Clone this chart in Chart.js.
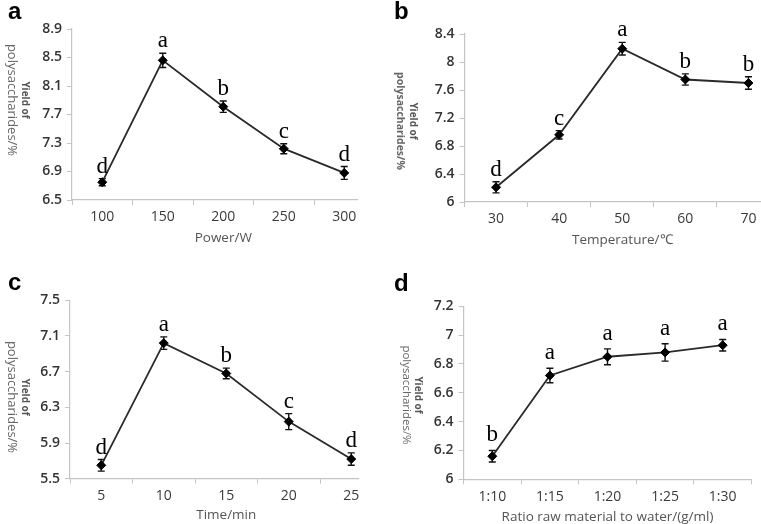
<!DOCTYPE html>
<html>
<head>
<meta charset="utf-8">
<script src="https://cdn.jsdelivr.net/npm/chart.js@4"></script>
<style>
  html, body { margin: 0; padding: 0; background: #fff; }
  body { width: 761px; height: 524px; overflow: hidden; position: relative; }
  .panel { position: absolute; overflow: hidden; }
  canvas { display: block; }
</style>
</head>
<body>
<div class="panel" style="left:0;top:0;width:358px;height:262px"><canvas id="chartA" width="380" height="262"></canvas></div>
<div class="panel" style="left:380px;top:0;width:381px;height:262px"><canvas id="chartB" width="420" height="262"></canvas></div>
<div class="panel" style="left:0;top:262px;width:359px;height:262px"><canvas id="chartC" width="390" height="262"></canvas></div>
<div class="panel" style="left:380px;top:262px;width:381px;height:262px"><canvas id="chartD" width="381" height="262"></canvas></div>
<script>
// a: power
const powerLabels = ['100', '150', '200', '250', '300'];
const powerYield = [6.75, 8.46, 7.81, 7.22, 6.88];
const powerErr = [0.05, 0.1, 0.08, 0.07, 0.09];
const powerGroups = ['d', 'a', 'b', 'c', 'd'];

// b: temperature
const tempLabels = ['30', '40', '50', '60', '70'];
const tempYield = [6.21, 6.96, 8.19, 7.75, 7.70];
const tempErr = [0.08, 0.06, 0.09, 0.08, 0.09];
const tempGroups = ['d', 'c', 'a', 'b', 'b'];

// c: time
const timeLabels = ['5', '10', '15', '20', '25'];
const timeYield = [5.65, 7.02, 6.68, 6.14, 5.72];
const timeErr = [0.065, 0.07, 0.06, 0.09, 0.07];
const timeGroups = ['d', 'a', 'b', 'c', 'd'];

// d: ratio
const ratioLabels = ['1:10', '1:15', '1:20', '1:25', '1:30'];
const ratioYield = [6.16, 6.72, 6.85, 6.88, 6.93];
const ratioErr = [0.04, 0.05, 0.055, 0.06, 0.04];
const ratioGroups = ['b', 'a', 'a', 'a', 'a'];

const yTitle = ['Yield of', 'polysaccharides/%'];

// error bars + letters + panel label + rotated y title
const decor = {
  id: 'decor',
  beforeDatasetsDraw(chart, args, o) {
    const ctx = chart.ctx, y = chart.scales.y;
    const meta = chart.getDatasetMeta(0), vals = chart.data.datasets[0].data;
    ctx.save();
    ctx.strokeStyle = '#111';
    ctx.lineWidth = 1.4;
    meta.data.forEach((pt, i) => {
      const yt = y.getPixelForValue(vals[i] + o.errors[i]);
      const yb = y.getPixelForValue(vals[i] - o.errors[i]);
      ctx.beginPath();
      ctx.moveTo(pt.x, yt); ctx.lineTo(pt.x, yb);
      ctx.moveTo(pt.x - 3.5, yt); ctx.lineTo(pt.x + 3.5, yt);
      ctx.moveTo(pt.x - 3.5, yb); ctx.lineTo(pt.x + 3.5, yb);
      ctx.stroke();
    });
    ctx.restore();
  },
  afterDraw(chart, args, o) {
    const ctx = chart.ctx, y = chart.scales.y;
    const meta = chart.getDatasetMeta(0), vals = chart.data.datasets[0].data;
    ctx.save();
    ctx.fillStyle = '#000';
    ctx.font = '23px "Liberation Serif", serif';
    ctx.textAlign = 'center';
    ctx.textBaseline = 'alphabetic';
    meta.data.forEach((pt, i) => {
      const yt = y.getPixelForValue(vals[i] + o.errors[i]);
      ctx.fillText(o.groups[i], pt.x, yt - o.gap);
    });
    // panel letter
    ctx.font = 'bold 24px "Liberation Sans", Arial, sans-serif';
    ctx.textAlign = 'left';
    ctx.fillText(o.panel, o.panelX, o.panelY);
    // y title, rotated clockwise
    ctx.translate(o.titleX, o.titleY);
    ctx.rotate(Math.PI / 2);
    ctx.textAlign = 'center';
    ctx.textBaseline = 'middle';
    ctx.fillStyle = '#555';
    ctx.font = 'bold 10px "Open Sans", sans-serif';
    ctx.fillText(yTitle[0], 0, 0);
    ctx.fillStyle = '#666';
    ctx.font = o.titleFont;
    ctx.fillText(yTitle[1], 0, o.titleGap);
    ctx.restore();
  }
};

function makePanel(id, labels, values, errors, groups, sc, lay) {
  const H = 262;
  new Chart(document.getElementById(id), {
    type: 'line',
    data: {
      labels: labels,
      datasets: [{
        data: values,
        borderColor: '#2a2a2a',
        borderWidth: 1.8,
        tension: 0,
        pointStyle: 'rectRot',
        pointRadius: 4.5,
        pointBackgroundColor: '#000',
        pointBorderColor: '#000',
        pointBorderWidth: 1
      }]
    },
    options: {
      responsive: false,
      animation: false,
      layout: { padding: { top: lay.t, right: lay.W - lay.r, left: 0, bottom: 0 } },
      plugins: {
        legend: { display: false },
        tooltip: { enabled: false },
        decor: Object.assign({ errors: errors, groups: groups }, lay.decor)
      },
      scales: {
        x: {
          type: 'category',
          offset: true,
          grid: { offset: true, drawOnChartArea: false, tickLength: 5, color: '#c4c4c4' },
          border: { color: '#c4c4c4', width: 1.2 },
          ticks: { color: '#3a3a3a', padding: 4, font: { family: 'Open Sans', size: 14 } },
          title: {
            display: true, text: lay.xTitle, color: '#555',
            font: { family: 'Open Sans', size: 13.5, lineHeight: 1 },
            padding: { top: 0, bottom: H - lay.xTitleY - 7 }
          },
          afterFit: s => { s.height = H - lay.b; }
        },
        y: {
          min: sc[0], max: sc[1],
          grid: { drawOnChartArea: false, tickLength: 5, color: '#c4c4c4' },
          border: { color: '#c4c4c4', width: 1.2 },
          ticks: {
            stepSize: sc[2], color: '#333', padding: 5,
            font: { family: 'Open Sans', size: 14, weight: '600' },
            callback: v => String(+v.toFixed(2))
          },
          afterFit: s => { s.width = lay.l; }
        }
      }
    },
    plugins: [decor]
  });
}

makePanel('chartA', powerLabels, powerYield, powerErr, powerGroups, [6.5, 8.9, 0.4], {
  W: 380, l: 72, t: 29, r: 376, b: 200, xTitle: 'Power/W', xTitleY: 238,
  decor: { gap: 6, panel: 'a', panelX: 8, panelY: 19, titleX: 25, titleY: 100, titleGap: 13, titleFont: '13px "Open Sans", sans-serif' }
});
makePanel('chartB', tempLabels, tempYield, tempErr, tempGroups, [6, 8.4, 0.4], {
  W: 420, l: 84.5, t: 34, r: 400, b: 202, xTitle: 'Temperature/\u2103', xTitleY: 240,
  decor: { gap: 6, panel: 'b', panelX: 14, panelY: 19, titleX: 33, titleY: 121, titleGap: 13, titleFont: 'bold 10.5px "Open Sans", sans-serif' }
});
makePanel('chartC', timeLabels, timeYield, timeErr, timeGroups, [5.5, 7.5, 0.4], {
  W: 390, l: 70, t: 38.3, r: 382.5, b: 216.7, xTitle: 'Time/min', xTitleY: 253,
  decor: { gap: 6, panel: 'c', panelX: 8, panelY: 28, titleX: 25, titleY: 135, titleGap: 13, titleFont: '13px "Open Sans", sans-serif' }
});
makePanel('chartD', ratioLabels, ratioYield, ratioErr, ratioGroups, [6, 7.2, 0.2], {
  W: 381, l: 83.5, t: 44.3, r: 371.5, b: 217.3, xTitle: 'Ratio raw material to water/(g/ml)', xTitleY: 255,
  decor: { gap: 9, panel: 'd', panelX: 14, panelY: 29, titleX: 38, titleY: 133, titleGap: 12, titleFont: '11.5px "Open Sans", sans-serif' }
});
</script>
</body>
</html>
